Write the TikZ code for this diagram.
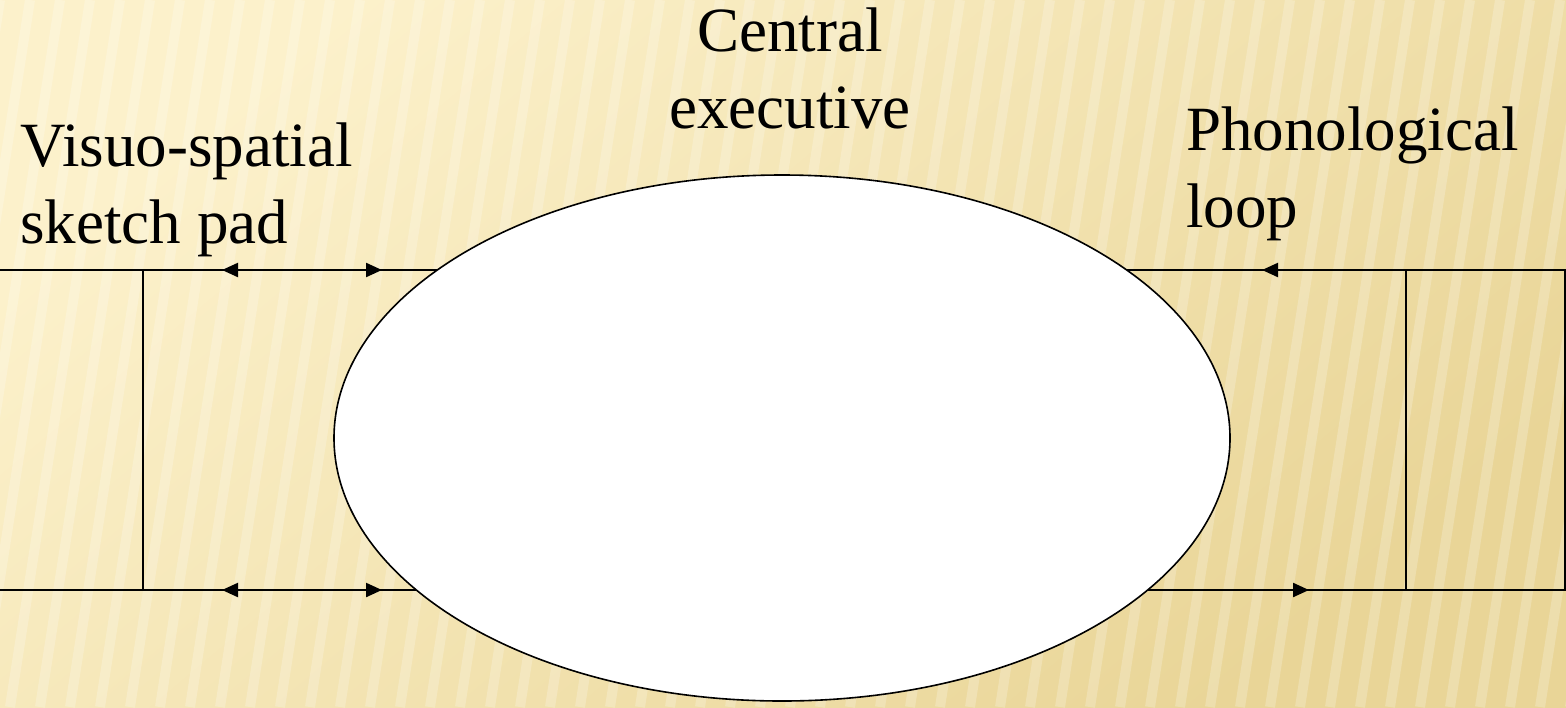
\documentclass[tikz,border=0pt]{standalone}
\usepackage{fontspec}
\setmainfont{Liberation Serif}
\usepackage{tikz}
\usetikzlibrary{shapes, arrows.meta, positioning}
\definecolor{bgLight}{HTML}{FCF1CB}
\definecolor{bgDark}{HTML}{E9D597}

\begin{document}
\begin{tikzpicture}[
        x=0.5pt, y=-0.5pt,
        every node/.style={align=left, font=\fontsize{31.5}{38.5}\selectfont, inner sep=0pt},
        wire/.style={line width=0.8pt, black},
        flow/.style={line width=1.1pt, black, -{Triangle[length=8pt, width=7pt]}},
        flowboth/.style={line width=1.1pt, black, {Triangle[length=8pt, width=7pt]}-{Triangle[length=8pt, width=7pt]}},
        stripe/.style={line width=5pt, white, opacity=0.22}
    ]
        \useasboundingbox (0,0) rectangle (1566,707);
        \shade[top color=bgLight, bottom color=bgDark, shading angle=40] (0,0) rectangle (1566,707);
        \foreach \x in {-200,-170,...,1600}
            \draw[stripe] (\x,707) -- (\x+110,0);

        \node[ellipse, draw, line width=0.8pt, fill=white, minimum width=448pt, minimum height=263pt] (ce) at (782,438) {};

        \node[anchor=base west] (vssp) at (20,243) {Visuo-spatial\\sketch pad};
        \node[anchor=base west] (pl) at (1186,227) {Phonological\\loop};
        \node[anchor=base, align=center] (cexec) at (790,128) {Central\\executive};

        \coordinate (vsTL) at (0,270);
        \coordinate (vsBL) at (0,590);
        \coordinate (vsTM) at (143,270);
        \coordinate (vsBM) at (143,590);
        \coordinate (ceTL) at (437,270);
        \coordinate (ceBL) at (416,590);
        \coordinate (ceTR) at (1127,270);
        \coordinate (ceBR) at (1148,590);
        \coordinate (plTM) at (1406,270);
        \coordinate (plBM) at (1406,590);
        \coordinate (plTR) at (1565,270);
        \coordinate (plBR) at (1565,590);

        \draw[wire] (vsTL) -- (ceTL);
        \draw[wire] (vsBL) -- (ceBL);
        \draw[wire] (vsTM) -- (vsBM);
        \draw[wire] (ceTR) -- (plTR) -- (plBR) -- (ceBR);
        \draw[wire] (plTM) -- (plBM);

        \coordinate (aTa) at (222,270);
        \coordinate (aTb) at (382,270);
        \coordinate (aBa) at (222,590);
        \coordinate (aBb) at (382,590);
        \coordinate (pTa) at (1374,270);
        \coordinate (pTb) at (1262,270);
        \coordinate (pBa) at (1214,590);
        \coordinate (pBb) at (1309,590);

        \draw[flowboth] (aTa) -- (aTb);
        \draw[flowboth] (aBa) -- (aBb);
        \draw[flow] (pTa) -- (pTb);
        \draw[flow] (pBa) -- (pBb);
    \end{tikzpicture}
\end{document}
